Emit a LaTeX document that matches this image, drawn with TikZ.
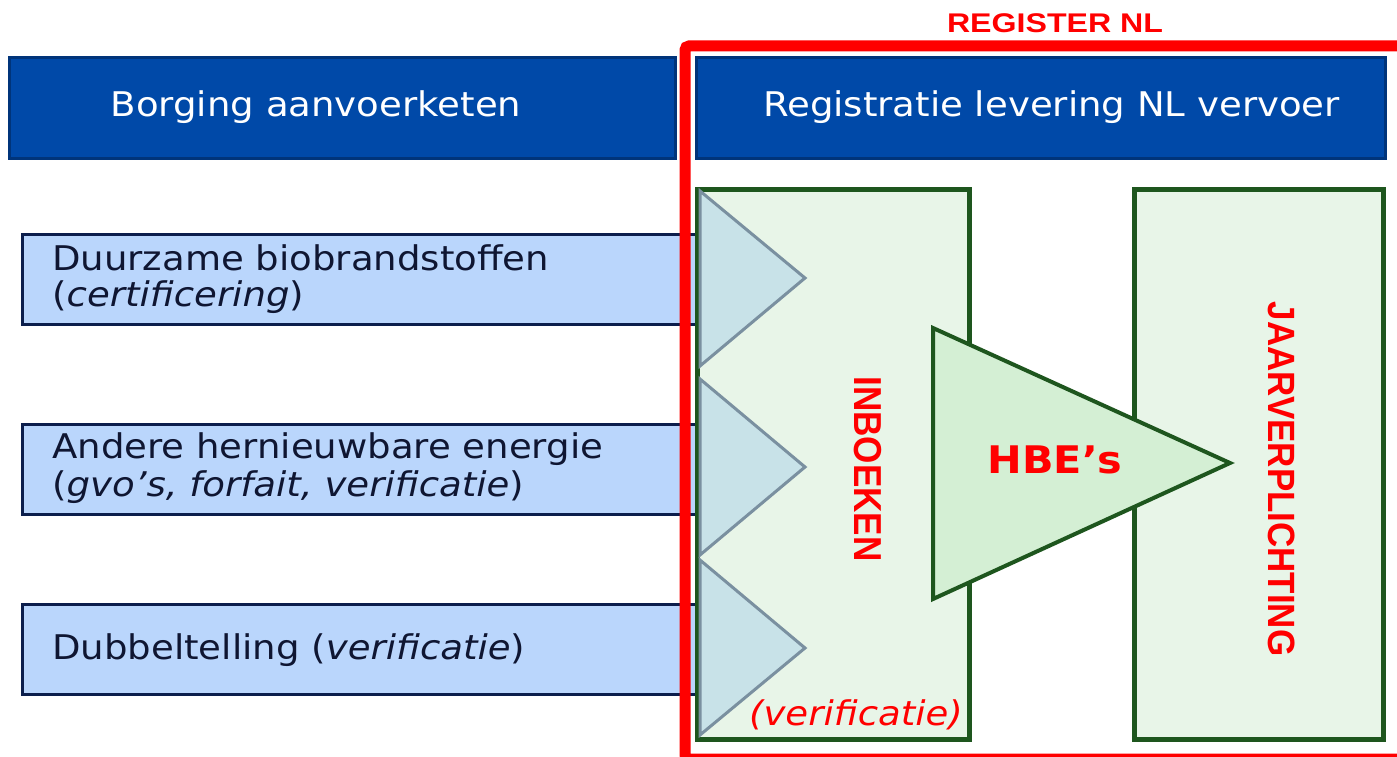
\documentclass[tikz,border=0pt]{standalone}
\usepackage{fontspec}
\setmainfont{DejaVu Sans}[ItalicFont={DejaVu Sans Oblique},BoldFont={DejaVu Sans Bold},FakeStretch=1.09]
\newfontfamily\regfont{Liberation Sans}

\definecolor{hdrblue}{HTML}{0049A8}
\definecolor{hdrline}{HTML}{00347A}
\definecolor{srcblue}{HTML}{BAD6FC}
\definecolor{srcline}{HTML}{0C1E4C}
\definecolor{srctext}{HTML}{0F1632}
\definecolor{regred}{HTML}{FF0000}
\definecolor{boxgreen}{HTML}{E8F5E8}
\definecolor{boxline}{HTML}{1E561E}
\definecolor{hbegreen}{HTML}{D4EFD4}
\definecolor{triblue}{HTML}{C8E2E8}
\definecolor{triline}{HTML}{7A90A0}

\begin{document}
\begin{tikzpicture}[x=1pt,y=-1pt,
  header/.style={draw=hdrline, fill=hdrblue, line width=3pt},
  srcbox/.style={draw=srcline, fill=srcblue, line width=3pt},
  greenbox/.style={draw=boxline, fill=boxgreen, line width=5pt},
  intri/.style={draw=triline, fill=triblue, line width=3pt},
  srclabel/.style={anchor=base west, inner sep=0pt, text=srctext, font=\fontsize{34}{34}\selectfont},
  redlabel/.style={inner sep=0pt, text=regred}]

\useasboundingbox (0,0) rectangle (1397,757);
\fill[white] (0,0) rectangle (1397,757);

% kopjes
\node[header, minimum width=666, minimum height=101] (borging) at (342.5,108) {};
\node[header, minimum width=689, minimum height=101] (registratie) at (1040.5,108) {};
\node[anchor=base, inner sep=0pt, text=white, font=\fontsize{34}{34}\selectfont] (borgingtxt) at (316,117) {Borging aanvoerketen};
\node[anchor=base, inner sep=0pt, text=white, font=\fontsize{34}{34}\selectfont] (registratietxt) at (1051.5,117) {Registratie levering NL vervoer};

% aanvoer
\node[srcbox, minimum width=674, minimum height=90] (bio) at (359,279) {};
\node[srcbox, minimum width=674, minimum height=90] (andere) at (359,469) {};
\node[srcbox, minimum width=674, minimum height=90] (dubbel) at (359,649) {};
\node[srclabel] (biotxt) at (52,270) {Duurzame biobrandstoffen};
\node[srclabel] (biosub) at (52,306) {(\textit{certificering})};
\node[srclabel] (anderetxt) at (52,458) {Andere hernieuwbare energie};
\node[srclabel] (anderesub) at (52,496) {(\textit{gvo’s, forfait, verificatie})};
\node[srclabel] (dubbeltxt) at (52,659) {Dubbeltelling (\textit{verificatie})};

% register
\node[greenbox, minimum width=272, minimum height=550] (inboeken) at (833.5,464.5) {};
\node[greenbox, minimum width=248.5, minimum height=550] (jaar) at (1258.75,464.5) {};

\draw[intri] (700,191) -- (805,278) -- (700,366) -- cycle;
\draw[intri] (700,379) -- (805,467) -- (700,555) -- cycle;
\draw[intri] (700,560) -- (805,648) -- (700,735) -- cycle;

\draw[draw=boxline, fill=hbegreen, line width=4pt] (933,328) -- (1230,463) -- (933,599) -- cycle;

\node[redlabel, rotate=-90, font=\regfont\bfseries\fontsize{39}{39}\selectfont] (inboekentxt) at (867.5,469) {\scalebox{0.9}[1]{INBOEKEN}};
\node[redlabel, rotate=-90, font=\regfont\bfseries\fontsize{38}{38}\selectfont] (jaartxt) at (1281.5,479) {\scalebox{0.92}[1]{JAARVERPLICHTING}};
\node[redlabel, anchor=base, font=\bfseries\fontsize{38}{38}\selectfont] (hbetxt) at (1055,473) {HBE’s};
\node[redlabel, anchor=base, font=\itshape\fontsize{34}{34}\selectfont] (verificatietxt) at (856,725) {(verificatie)};

\draw[regred, line width=11pt, rounded corners=4pt] (685,46) rectangle (1412,759);
\node[redlabel, anchor=base, font=\regfont\bfseries\fontsize{27}{27}\selectfont] (registernl) at (1055,33) {\scalebox{1.19}[1]{REGISTER NL}};
\end{tikzpicture}
\end{document}
